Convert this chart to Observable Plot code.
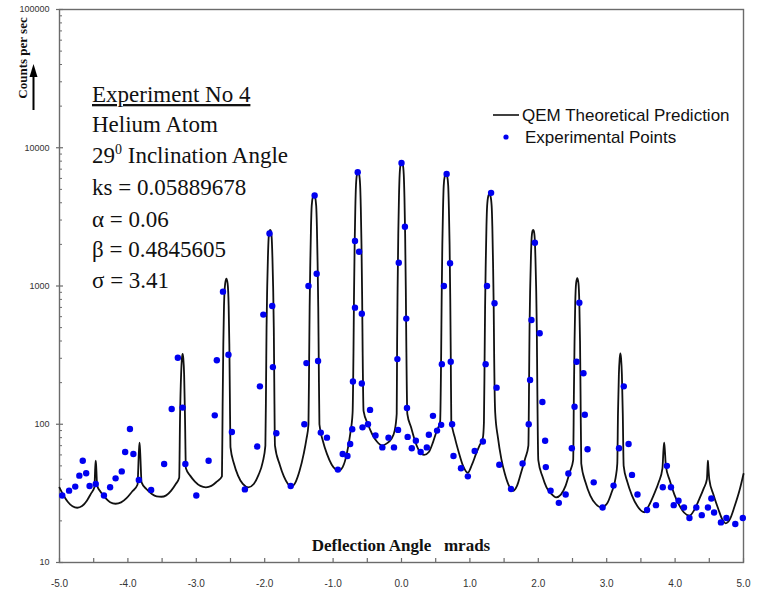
<!DOCTYPE html>
<html>
<head>
<meta charset="utf-8">
<script src="https://cdn.jsdelivr.net/npm/d3@7"></script>
<script src="https://cdn.jsdelivr.net/npm/@observablehq/plot@0.6"></script>
<style>
  html, body { margin: 0; padding: 0; background: #fff; }
  #chart { width: 763px; height: 592px; overflow: hidden; }
</style>
</head>
<body>
<div id="chart"></div>
<script>
// ---------------- data ----------------
// QEM theoretical prediction: [deflection angle (mrad), counts per sec]
const theoryCurve = [
  [-5.00, 34.8], [-4.94, 30.5], [-4.88, 27.5], [-4.81, 25.5], [-4.74, 24.9], [-4.67, 25.6], [-4.60, 28], [-4.54, 31.5], [-4.49, 35],
  [-4.478, 48], [-4.47, 54.5], [-4.462, 48], [-4.45, 36],
  [-4.40, 32.5], [-4.33, 29.3], [-4.26, 27.3], [-4.18, 26.6], [-4.10, 27.2], [-4.02, 29.2], [-3.94, 32.5], [-3.86, 36.5],
  [-3.84, 62], [-3.83, 73.5], [-3.82, 62], [-3.80, 38],
  [-3.73, 34], [-3.65, 31.3], [-3.58, 30.1], [-3.51, 29.9], [-3.44, 30.6], [-3.37, 33], [-3.30, 37], [-3.25, 41],
  [-3.238, 110], [-3.222, 230], [-3.21, 300], [-3.20, 323], [-3.19, 300], [-3.178, 230], [-3.165, 110], [-3.152, 48],
  [-3.09, 42.5], [-3.02, 38.5], [-2.94, 35.8], [-2.86, 35], [-2.78, 35.8], [-2.70, 38.5], [-2.625, 42],
  [-2.615, 140], [-2.605, 380], [-2.595, 720], [-2.578, 1040], [-2.56, 1130], [-2.542, 1040], [-2.527, 720], [-2.517, 380], [-2.508, 140], [-2.50, 68],
  [-2.45, 52], [-2.39, 42.5], [-2.32, 37], [-2.24, 35], [-2.16, 37], [-2.09, 43], [-2.03, 53], [-1.99, 70],
  [-1.98, 200], [-1.973, 500], [-1.963, 1000], [-1.953, 1600], [-1.943, 2200], [-1.93, 2500], [-1.92, 2550], [-1.91, 2500], [-1.897, 2200], [-1.887, 1600], [-1.877, 1000], [-1.867, 500], [-1.86, 200], [-1.85, 70],
  [-1.78, 51], [-1.72, 42], [-1.66, 37], [-1.61, 35.5], [-1.55, 38], [-1.49, 46], [-1.43, 61], [-1.39, 78], [-1.36, 100],
  [-1.35, 300], [-1.343, 700], [-1.333, 1500], [-1.323, 2700], [-1.313, 3800], [-1.295, 4450], [-1.28, 4600], [-1.265, 4450], [-1.247, 3800], [-1.237, 2700], [-1.227, 1500], [-1.217, 700], [-1.21, 300], [-1.20, 100],
  [-1.15, 76], [-1.09, 61], [-1.02, 51], [-0.96, 47], [-0.92, 46], [-0.86, 49], [-0.80, 61], [-0.75, 85], [-0.715, 121],
  [-0.702, 335], [-0.695, 800], [-0.685, 2000], [-0.675, 3700], [-0.665, 5400], [-0.65, 6450], [-0.635, 6700], [-0.62, 6450], [-0.605, 5400], [-0.595, 3700], [-0.585, 2000], [-0.575, 800], [-0.568, 335], [-0.555, 125],
  [-0.49, 100], [-0.43, 85], [-0.36, 75], [-0.28, 70], [-0.21, 73], [-0.15, 78], [-0.10, 90], [-0.07, 119],
  [-0.064, 400], [-0.057, 950], [-0.047, 2400], [-0.037, 4400], [-0.027, 6400], [-0.012, 7650], [0.003, 7950], [0.018, 7650], [0.033, 6400], [0.043, 4400], [0.053, 2400], [0.063, 950], [0.070, 400], [0.085, 119],
  [0.14, 95], [0.20, 75], [0.26, 64], [0.33, 60], [0.40, 63], [0.46, 74], [0.51, 88], [0.565, 105],
  [0.58, 330], [0.587, 800], [0.597, 2000], [0.607, 3600], [0.617, 5300], [0.635, 6350], [0.65, 6600], [0.665, 6350], [0.683, 5300], [0.693, 3600], [0.703, 2000], [0.713, 800], [0.72, 330], [0.728, 106],
  [0.78, 80], [0.84, 62], [0.90, 50], [0.97, 44.6], [1.03, 51], [1.09, 61], [1.14, 70], [1.19, 80], [1.205, 103],
  [1.215, 300], [1.222, 700], [1.232, 1500], [1.242, 2700], [1.252, 3800], [1.27, 4500], [1.285, 4650], [1.30, 4500], [1.318, 3800], [1.328, 2700], [1.338, 1500], [1.348, 700], [1.355, 300], [1.37, 121],
  [1.41, 80], [1.46, 56], [1.51, 44], [1.57, 36], [1.63, 33], [1.69, 36], [1.75, 45], [1.81, 57], [1.855, 70],
  [1.865, 200], [1.872, 500], [1.882, 1000], [1.892, 1600], [1.902, 2200], [1.915, 2500], [1.925, 2550], [1.935, 2500], [1.948, 2200], [1.958, 1600], [1.968, 1000], [1.978, 500], [1.985, 200], [2.00, 55],
  [2.06, 42], [2.12, 35], [2.19, 31.3], [2.26, 29.6], [2.33, 31], [2.40, 36], [2.46, 45], [2.51, 55],
  [2.52, 160], [2.53, 400], [2.54, 750], [2.553, 1050], [2.57, 1140], [2.587, 1050], [2.60, 750], [2.61, 400], [2.618, 160], [2.628, 52],
  [2.69, 38], [2.76, 30.5], [2.84, 26.5], [2.92, 25], [3.00, 26.5], [3.07, 32], [3.13, 41], [3.155, 52],
  [3.165, 120], [3.178, 230], [3.19, 300], [3.20, 325], [3.21, 300], [3.222, 230], [3.235, 120], [3.248, 50],
  [3.30, 38.5], [3.37, 30.5], [3.45, 25.5], [3.55, 23.1], [3.62, 26], [3.69, 31], [3.76, 38], [3.815, 48],
  [3.83, 65], [3.84, 73.5], [3.85, 65], [3.865, 50],
  [3.92, 39.5], [3.99, 31], [4.06, 26], [4.13, 23], [4.21, 21.8], [4.28, 24], [4.35, 28.5], [4.42, 34.5], [4.465, 40],
  [4.475, 50], [4.48, 54.5], [4.485, 50], [4.50, 40],
  [4.56, 31], [4.63, 24.5], [4.69, 20.5], [4.74, 19.2], [4.80, 20.5], [4.87, 25.5], [4.94, 33], [5.00, 43.7]
];

// Experimental points: [deflection angle (mrad), counts per sec]
const experimentalPoints = [
  [-4.96, 30.5], [-4.86, 33.1], [-4.77, 35.4], [-4.71, 42.5], [-4.66, 54.5], [-4.61, 44.2], [-4.56, 35.8], [-4.47, 37.0],
  [-4.35, 30.5], [-4.26, 35.0], [-4.18, 40.6], [-4.09, 45.6], [-4.04, 63.0], [-3.97, 92.3], [-3.92, 60.9], [-3.84, 39.5],
  [-3.66, 33.5], [-3.47, 51.6], [-3.36, 129], [-3.27, 303], [-3.20, 132], [-3.16, 51.6], [-3.00, 30.5],
  [-2.82, 54.5], [-2.73, 116], [-2.70, 290], [-2.61, 910], [-2.53, 318], [-2.48, 88], [-2.29, 33.8],
  [-2.11, 69], [-2.07, 188], [-2.02, 621], [-1.93, 2400], [-1.89, 717], [-1.88, 259], [-1.83, 86], [-1.62, 35.8],
  [-1.42, 100], [-1.39, 277], [-1.36, 1000], [-1.27, 4520], [-1.24, 1227], [-1.22, 287], [-1.18, 87], [-1.09, 80],
  [-0.93, 47], [-0.86, 61], [-0.79, 59], [-0.75, 72], [-0.72, 92], [-0.71, 204], [-0.68, 697], [-0.68, 2114],
  [-0.64, 6650], [-0.62, 1770], [-0.58, 631], [-0.58, 197], [-0.57, 95], [-0.49, 100], [-0.46, 127], [-0.38, 83],
  [-0.28, 68], [-0.19, 80], [-0.11, 68], [-0.05, 91], [-0.06, 296], [-0.04, 1472], [0.00, 7760], [0.05, 2680],
  [0.07, 581], [0.08, 131], [0.09, 81], [0.15, 67], [0.21, 76], [0.28, 63], [0.37, 68], [0.40, 84], [0.46, 115],
  [0.52, 90], [0.58, 99], [0.59, 272], [0.62, 1000], [0.66, 6470], [0.71, 1459], [0.72, 283], [0.74, 100],
  [0.76, 59], [0.87, 48], [0.97, 42], [1.07, 64], [1.19, 75], [1.23, 272], [1.25, 1000], [1.31, 4720], [1.36, 750],
  [1.39, 184], [1.43, 51], [1.60, 34], [1.77, 52], [1.86, 100], [1.88, 209], [1.90, 568], [1.95, 2056], [2.02, 455],
  [2.06, 145], [2.10, 76], [2.11, 49], [2.18, 33], [2.30, 27], [2.40, 31], [2.44, 44], [2.49, 67], [2.53, 134],
  [2.56, 283], [2.60, 757], [2.66, 234], [2.68, 117], [2.72, 66], [2.81, 38], [2.94, 25], [3.10, 36], [3.18, 67],
  [3.25, 188], [3.32, 72], [3.37, 43], [3.45, 31], [3.59, 24], [3.72, 26], [3.82, 35], [3.88, 50], [3.94, 35],
  [3.98, 26], [4.05, 28], [4.13, 25], [4.21, 21], [4.31, 25], [4.39, 22], [4.48, 25], [4.53, 29], [4.57, 23],
  [4.67, 19.5], [4.75, 21], [4.88, 19], [4.99, 21]
];

const xMajorTicks = [-5, -4, -3, -2, -1, 0, 1, 2, 3, 4, 5];
const xMinorTicks = [-5, -4.5, -4, -3.5, -3, -2.5, -2, -1.5, -1, -0.5, 0, 0.5, 1, 1.5, 2, 2.5, 3, 3.5, 4, 4.5, 5];
const yMajorTicks = [10, 100, 1000, 10000, 100000];
const yMinorTicks = [20, 30, 40, 50, 60, 70, 80, 90, 200, 300, 400, 500, 600, 700, 800, 900,
  2000, 3000, 4000, 5000, 6000, 7000, 8000, 9000, 20000, 30000, 40000, 50000, 60000, 70000, 80000, 90000];

const annotationLines = ["Experiment No 4", "Helium Atom", "29|0| Inclination Angle", "ks = 0.05889678", "α = 0.06", "β = 0.4845605", "σ = 3.41"];
const legendLabels = ["QEM Theoretical Prediction", "Experimental Points"];
const xAxisTitle = "Deflection Angle   mrads";
const yAxisTitle = "Counts per sec";

// ---------------- chart ----------------
const W = 763, H = 592;
const mL = 59, mR = 20, mT = 9, mB = 30;
const plotW = W - mL - mR, plotH = H - mT - mB;
const axisColor = "#6b6b6b";

const svg = Plot.plot({
  width: W,
  height: H,
  marginLeft: mL,
  marginRight: mR,
  marginTop: mT,
  marginBottom: mB,
  style: { background: "#fff", overflow: "visible" },
  x: { domain: [-5, 5] },
  y: { type: "log", domain: [10, 100000] },
  marks: [
    Plot.frame({ stroke: axisColor, strokeWidth: 1.4 }),
    Plot.ruleX(xMinorTicks, { x: d => d, insetTop: plotH - 4, stroke: axisColor, strokeWidth: 1.2 }),
    Plot.ruleY(yMinorTicks, { y: d => d, insetRight: plotW - 3, stroke: axisColor, strokeWidth: 1 }),
    Plot.ruleY(yMajorTicks, { y: d => d, insetRight: plotW - 4, insetLeft: -3, stroke: axisColor, strokeWidth: 1.2 }),
    Plot.axisX(xMajorTicks, {
      tickSize: 0, tickPadding: 17, tickFormat: d => d.toFixed(1),
      fontSize: 10, fontFamily: "Liberation Sans, Arial, sans-serif", fill: "#333", label: null
    }),
    Plot.axisY(yMajorTicks, {
      tickSize: 0, tickPadding: 10, tickFormat: d => String(d),
      fontSize: 9, fontFamily: "Liberation Sans, Arial, sans-serif", fill: "#333", label: null
    }),
    Plot.line(theoryCurve, { x: d => d[0], y: d => d[1], stroke: "#111", strokeWidth: 1.8, curve: "monotone-x" }),
    Plot.dot(experimentalPoints, { x: d => d[0], y: d => d[1], r: 3.2, fill: "#0000f0", stroke: "none" })
  ]
});

document.getElementById("chart").appendChild(svg);

// ---------------- annotations (text) ----------------
const s = d3.select(svg);
const g = s.append("g").attr("text-anchor", "start");

// x axis title inside the plot
g.append("text")
  .attr("x", 401).attr("y", 551)
  .attr("text-anchor", "middle")
  .style("white-space", "pre")
  .attr("font-family", "Liberation Serif, Times New Roman, serif")
  .attr("font-weight", "bold")
  .attr("font-size", 17)
  .attr("fill", "#111")
  .text(xAxisTitle);

// y axis title (rotated) and arrow
g.append("text")
  .attr("transform", "translate(26.5,58) rotate(-90)")
  .attr("text-anchor", "middle")
  .attr("font-family", "Liberation Serif, Times New Roman, serif")
  .attr("font-weight", "bold")
  .attr("font-size", 13)
  .attr("fill", "#111")
  .text(yAxisTitle);
g.append("line").attr("x1", 33.5).attr("x2", 33.5).attr("y1", 110).attr("y2", 74)
  .attr("stroke", "#000").attr("stroke-width", 2);
g.append("path").attr("d", "M33.5,64 L29.5,77 L37.5,77 Z").attr("fill", "#000");

// experiment parameters block
const baselines = [102, 132, 163, 195, 227, 257, 288];
annotationLines.forEach((line, i) => {
  const t = g.append("text")
    .attr("x", 92).attr("y", baselines[i])
    .attr("text-anchor", "start")
    .attr("font-family", "Liberation Serif, Times New Roman, serif")
    .attr("font-size", 23)
    .attr("fill", "#111");
  if (line.includes("|")) {
    const parts = line.split("|");
    t.append("tspan").text(parts[0]);
    t.append("tspan").attr("font-size", 14).attr("dy", -9).text(parts[1]);
    t.append("tspan").attr("dy", 9).text(parts[2]);
  } else {
    t.text(line);
  }
  if (i === 0) t.attr("text-decoration", "underline");
});

// legend
g.append("line").attr("x1", 493).attr("x2", 519).attr("y1", 115).attr("y2", 115)
  .attr("stroke", "#111").attr("stroke-width", 1.6);
g.append("text").attr("x", 522).attr("y", 115).attr("dy", "0.35em")
  .attr("text-anchor", "start")
  .attr("font-family", "Liberation Sans, Arial, sans-serif").attr("font-size", 17).attr("fill", "#111")
  .text(legendLabels[0]);
g.append("circle").attr("cx", 506).attr("cy", 137).attr("r", 2.6).attr("fill", "#0000f0");
g.append("text").attr("x", 525).attr("y", 137).attr("dy", "0.35em")
  .attr("text-anchor", "start")
  .attr("font-family", "Liberation Sans, Arial, sans-serif").attr("font-size", 17).attr("fill", "#111")
  .text(legendLabels[1]);
</script>
</body>
</html>
